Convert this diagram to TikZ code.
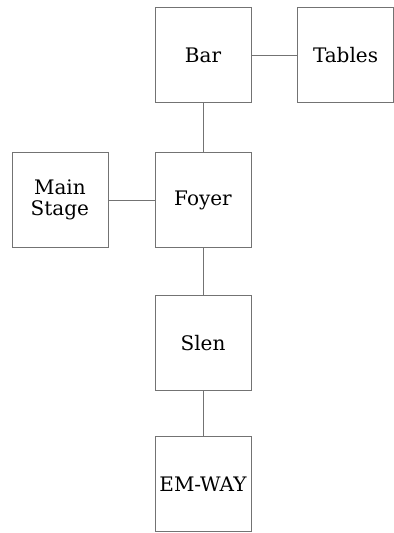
\documentclass[tikz,border=0pt]{standalone}
\usepackage{fontspec}
\setmainfont{DejaVu Serif}
\begin{document}
\begin{tikzpicture}[inner sep=0pt,outer sep=0pt,line width=0.6pt,
roomblock/.style={draw=black!55,rectangle,align=center,minimum width=3.37cm,minimum height=3.33cm,
  font=\fontsize{20}{21}\selectfont,line width=0.6pt}]
\useasboundingbox (-7.135,-11.705) rectangle (6.713,7.03);
\draw (0,0) node[roomblock] (Foyer) {Foyer};
\draw (0,5.1) node[roomblock] (Bar) {Bar};
\draw (5.01,5.1) node[roomblock] (Tables) {Tables};
\draw (-5.03,0) node[roomblock] (Stage) {Main\\Stage};
\draw (0,-5.03) node[roomblock] (Slen) {Slen};
\draw (0,-9.98) node[roomblock] (EMWAY) {EM-WAY};

\draw[black!55] (Bar.0) -- (Tables.180);
\draw[black!55] (Bar.-90) -- (Foyer.90);
\draw[black!55] (Stage.0) -- (Foyer.180);
\draw[black!55] (Foyer.-90) -- (Slen.90);
\draw[black!55] (Slen.-90) -- (EMWAY.90);

\end{tikzpicture}
\end{document}
